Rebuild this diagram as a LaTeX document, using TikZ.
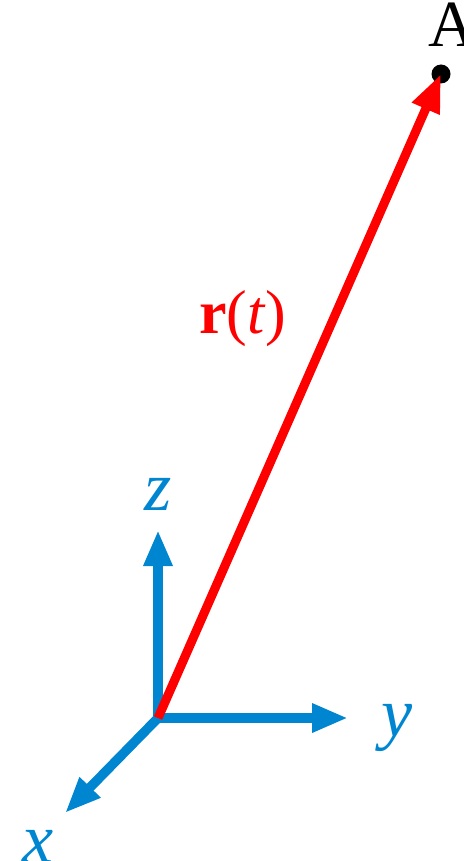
\documentclass[tikz,border=0pt]{standalone}
\usepackage{fontspec}
\setmainfont{Liberation Serif}
\usetikzlibrary{arrows.meta}
\definecolor{axisblue}{RGB}{0,134,209}

\begin{document}
\begin{tikzpicture}[
    x=1pt, y=-1pt,
    axis/.style={-{Triangle[length=36pt, width=27pt]}, line width=9.5pt, axisblue},
    vec/.style={-{Triangle[length=38pt, width=28pt]}, line width=9pt, red},
    lbl/.style={anchor=base, inner sep=0pt, font=\fontsize{70}{80}\selectfont},
    dot/.style={circle, fill=black, inner sep=0pt, minimum size=19pt}
]
\useasboundingbox (0,0) rectangle (463,861);
\coordinate (O) at (158,718);
\coordinate (xend) at (65,813);
\coordinate (yend) at (348,718);
\coordinate (zend) at (158,530);
\node[dot] (A) at (441,74) {};

\draw[axis] (O) -- (xend);
\draw[axis] (O) -- (yend);
\draw[axis] (O) -- (zend);
\draw[vec] (O) -- (A.center);

\node[lbl, axisblue] (xlbl) at (38,862) {\itshape x};
\node[lbl, axisblue] (ylbl) at (397,736) {\itshape y};
\node[lbl, axisblue] (zlbl) at (158,510) {\itshape z};
\node[lbl, red, font=\fontsize{62}{70}\selectfont] (rlbl) at (243,333) {\textbf{r}(\textit{t})};
\node[lbl, font=\fontsize{66}{70}\selectfont] (Albl) at (452,47) {A};
\end{tikzpicture}
\end{document}
